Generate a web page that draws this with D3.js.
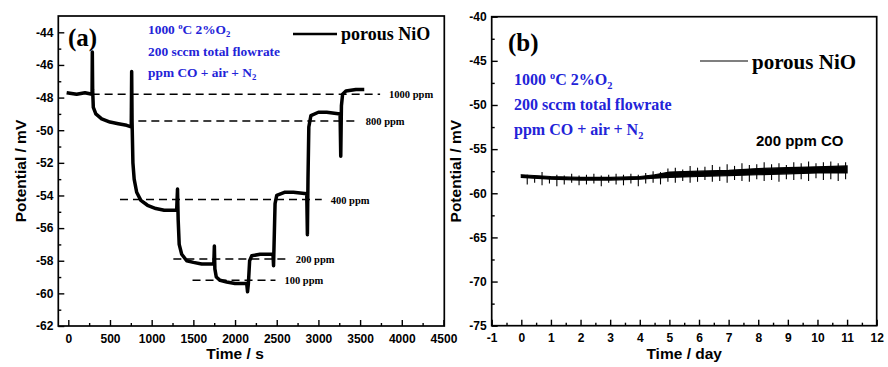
<!DOCTYPE html>
<html>
<head>
<meta charset="utf-8">
<script src="https://cdn.jsdelivr.net/npm/d3@7"></script>
<style>
  html, body { margin: 0; padding: 0; background: #fff; }
  svg { display: block; }
  .tick text { font-family: "Liberation Sans", Arial, sans-serif; font-weight: bold; font-size: 12px; fill: #000; }
  .domain { display: none; }
  .tick line { stroke: #000; stroke-width: 1.4; }
</style>
</head>
<body>
<svg width="888" height="367"></svg>
<script>
// ---- panel (a): potential vs time, stepwise CO levels ----
const timeA = [-20, 100, 200, 285, 288, 292, 300, 330, 400, 500, 600, 700, 755, 760, 765, 775, 790, 820, 870, 950, 1050, 1150, 1300,
  1310, 1318, 1330, 1360, 1420, 1500, 1600, 1745, 1752, 1758, 1775, 1820, 1900, 2000, 2140, 2150, 2160, 2175, 2200, 2300, 2455,
  2462, 2468, 2480, 2500, 2600, 2700, 2860, 2868, 2875, 2885, 2910, 3000, 3100, 3260, 3268, 3276, 3290, 3330, 3450, 3550];
const potA = [-47.7, -47.8, -47.7, -47.8, -45.2, -47.5, -48.6, -49.0, -49.3, -49.5, -49.6, -49.7, -49.8, -46.4, -49.5, -52.0, -53.0, -53.8, -54.3, -54.6, -54.8, -54.9, -54.9,
  -53.6, -55.5, -57.0, -57.6, -58.0, -58.1, -58.2, -58.2, -57.1, -58.5, -59.0, -59.2, -59.3, -59.4, -59.4, -59.9, -59.4, -58.0, -57.7, -57.6, -57.6,
  -58.3, -57.0, -54.5, -54.0, -53.8, -53.8, -53.9, -56.4, -53.0, -49.8, -49.1, -48.9, -48.9, -49.0, -51.6, -48.5, -47.8, -47.6, -47.5, -47.5];

// dashed reference levels
const levelNames = ['1000 ppm', '800 ppm', '400 ppm', '200 ppm', '100 ppm'];
const levelValues = [-47.8, -49.43, -54.25, -57.9, -59.19];
const levelStart = [280, 840, 620, 1260, 1490];
const levelEnd = [3740, 3460, 3040, 2620, 2485];

// ---- panel (b): long term stability, 200 ppm CO ----
const dayB = [0, 1, 2, 3, 4, 4.5, 5, 6, 7, 8, 9, 10, 11];
const coreHighB = [-57.9, -58.1, -58.2, -58.2, -58.1, -57.9, -57.6, -57.5, -57.4, -57.2, -57.1, -57.0, -56.9];
const coreLowB = [-58.2, -58.4, -58.5, -58.5, -58.4, -58.3, -58.2, -58.1, -58.0, -57.9, -57.8, -57.7, -57.7];
const spikeDay = [0.2, 0.45, 0.7, 0.95, 1.2, 1.45, 1.7, 1.95, 2.2, 2.45, 2.7, 2.95, 3.2, 3.45, 3.7, 3.95, 4.2, 4.45, 4.7, 4.95, 5.2,
  5.45, 5.7, 5.95, 6.2, 6.45, 6.7, 6.95, 7.2, 7.45, 7.7, 7.95, 8.2, 8.45, 8.7, 8.95, 9.2, 9.45, 9.7, 9.95, 10.2, 10.45, 10.7, 10.95];
const spikeLow = [-59.0, -58.8, -59.1, -58.9, -59.2, -59.0, -58.8, -59.1, -59.0, -58.9, -59.2, -58.8, -59.0, -59.1, -58.9, -59.2, -58.9, -58.8, -59.0, -58.7, -58.8,
  -58.6, -58.8, -58.7, -58.5, -58.7, -58.6, -58.8, -58.5, -58.6, -58.7, -58.4, -58.6, -58.5, -58.7, -58.4, -58.5, -58.4, -58.6, -58.3, -58.5, -58.4, -58.6, -58.4];
const spikeHigh = [-57.9, -58.0, -57.6, -58.1, -57.9, -58.0, -57.8, -58.0, -57.9, -57.8, -58.0, -57.9, -57.8, -57.9, -57.8, -57.9, -57.7, -57.5, -57.6, -57.2, -57.1,
  -57.3, -56.9, -57.1, -57.0, -56.8, -57.0, -56.7, -56.9, -56.6, -56.8, -56.7, -56.5, -56.7, -56.6, -56.8, -56.5, -56.6, -56.4, -56.6, -56.5, -56.4, -56.6, -56.5];

const svg = d3.select('svg');
const serif = '"Liberation Serif", "Times New Roman", serif';
const sans = '"Liberation Sans", Arial, sans-serif';
const blue = '#2323d8';

function drawAxes(x, y, xMajor, xMinor, yMajor, yMinor) {
  const [x0, x1] = x.range();
  const [y0, y1] = y.range();
  const g = svg.append('g');
  g.append('g').attr('transform', `translate(0,${y0})`)
    .call(d3.axisBottom(x).tickValues(xMinor).tickSize(-3).tickFormat(''));
  g.append('g').attr('transform', `translate(0,${y0})`)
    .call(d3.axisBottom(x).tickValues(xMajor).tickSize(-6).tickPadding(8).tickFormat(d3.format('d')));
  g.append('g').attr('transform', `translate(${x0},0)`)
    .call(d3.axisLeft(y).tickValues(yMinor).tickSize(-3).tickFormat(''));
  g.append('g').attr('transform', `translate(${x0},0)`)
    .call(d3.axisLeft(y).tickValues(yMajor).tickSize(-6).tickPadding(5).tickFormat(d3.format('d')));
  g.selectAll('.tick text').text(function () { return this.textContent.replace('−', '-'); });
  g.append('rect')
    .attr('x', x0).attr('y', y1).attr('width', x1 - x0).attr('height', y0 - y1)
    .attr('fill', 'none').attr('stroke', '#000').attr('stroke-width', 1.7);
  return g;
}

function conditions(xp, yp, size, gap) {
  const t = svg.append('g').attr('font-family', serif).attr('font-weight', 'bold')
    .attr('font-size', size).attr('fill', blue);
  const l1 = t.append('text').attr('x', xp).attr('y', yp);
  l1.append('tspan').text('1000 ');
  l1.append('tspan').attr('font-size', size * 0.65).attr('dy', -size * 0.35).text('o');
  l1.append('tspan').attr('dy', size * 0.35).text('C 2%O');
  l1.append('tspan').attr('font-size', size * 0.65).attr('dy', size * 0.25).text('2');
  t.append('text').attr('x', xp).attr('y', yp + gap).text('200 sccm total flowrate');
  const l3 = t.append('text').attr('x', xp).attr('y', yp + 2 * gap);
  l3.append('tspan').text('ppm CO + air + N');
  l3.append('tspan').attr('font-size', size * 0.65).attr('dy', size * 0.25).text('2');
}

function legend(xl, yl, len, size, lw) {
  svg.append('line').attr('x1', xl).attr('x2', xl + len).attr('y1', yl).attr('y2', yl)
    .attr('stroke', '#000').attr('stroke-width', lw);
  svg.append('text').attr('x', xl + len + 4).attr('y', yl + size * 0.36)
    .attr('font-family', serif).attr('font-weight', 'bold').attr('font-size', size).text('porous NiO');
}

// ---------- panel (a) ----------
const xA = d3.scaleLinear().domain([-120, 4510]).range([58.3, 444.3]);
const yA = d3.scaleLinear().domain([-62, -43]).range([326, 16]);
drawAxes(xA, yA, d3.range(0, 4501, 500), d3.range(250, 4500, 500), d3.range(-62, -43, 2), d3.range(-61, -43, 2));

const levels = levelNames.map((n, i) => ({ n, v: levelValues[i], s: levelStart[i], e: levelEnd[i] }));
svg.append('g').selectAll('line').data(levels).join('line')
  .attr('x1', d => xA(d.s)).attr('x2', d => xA(d.e))
  .attr('y1', d => yA(d.v)).attr('y2', d => yA(d.v))
  .attr('stroke', '#000').attr('stroke-width', 1.5).attr('stroke-dasharray', '8,5');
svg.append('g').selectAll('text').data(levels).join('text')
  .attr('x', d => xA(d.e) + 9).attr('y', d => yA(d.v) + 4)
  .attr('font-family', serif).attr('font-weight', 'bold').attr('font-size', 10.5).text(d => d.n);

svg.append('path').datum(timeA.map((t, i) => [t, potA[i]]))
  .attr('fill', 'none').attr('stroke', '#000').attr('stroke-width', 3.5).attr('stroke-linejoin', 'round')
  .attr('d', d3.line().x(d => xA(d[0])).y(d => yA(d[1])));

svg.append('text').attr('x', 68).attr('y', 46).attr('font-family', serif).attr('font-weight', 'bold')
  .attr('font-size', 25).text('(a)');
conditions(148, 34, 13.4, 21.5);
legend(293, 34, 44, 18, 2.6);

svg.append('text').attr('x', xA(2000)).attr('y', 359).attr('text-anchor', 'middle')
  .attr('font-family', sans).attr('font-weight', 'bold').attr('font-size', 15.5).text('Time / s');
svg.append('text').attr('transform', `translate(26,${(16 + 326) / 2}) rotate(-90)`).attr('text-anchor', 'middle')
  .attr('font-family', sans).attr('font-weight', 'bold').attr('font-size', 15.5).text('Potential / mV');

// ---------- panel (b) ----------
const xB = d3.scaleLinear().domain([-1, 12]).range([491.7, 876.7]);
const yB = d3.scaleLinear().domain([-75, -40]).range([325.7, 16.7]);
drawAxes(xB, yB, d3.range(-1, 12.01, 1), d3.range(-0.5, 12, 1), d3.range(-75, -39, 5), d3.range(-72.5, -40, 5));

svg.append('g').selectAll('line').data(spikeDay).join('line')
  .attr('x1', d => xB(d)).attr('x2', d => xB(d))
  .attr('y1', (d, i) => yB(spikeLow[i])).attr('y2', (d, i) => yB(spikeHigh[i]))
  .attr('stroke', '#000').attr('stroke-width', 1.1);
svg.append('path').datum(dayB.map((d, i) => [d, coreLowB[i], coreHighB[i]]))
  .attr('fill', '#000').attr('stroke', '#000').attr('stroke-width', 1.2)
  .attr('d', d3.area().x(d => xB(d[0])).y0(d => yB(d[1])).y1(d => yB(d[2])));

svg.append('text').attr('x', 508).attr('y', 51).attr('font-family', serif).attr('font-weight', 'bold')
  .attr('font-size', 25).text('(b)');
conditions(514, 85, 16, 25);
legend(700, 61, 48, 21, 1.2);
svg.append('text').attr('x', 756).attr('y', 146).attr('font-family', sans).attr('font-weight', 'bold')
  .attr('font-size', 15).text('200 ppm CO');

svg.append('text').attr('x', xB(5.5)).attr('y', 359).attr('text-anchor', 'middle')
  .attr('font-family', sans).attr('font-weight', 'bold').attr('font-size', 15.5).text('Time / day');
svg.append('text').attr('transform', `translate(461,${(16.7 + 325.7) / 2}) rotate(-90)`).attr('text-anchor', 'middle')
  .attr('font-family', sans).attr('font-weight', 'bold').attr('font-size', 15.5).text('Potential / mV');
</script>
</body>
</html>
